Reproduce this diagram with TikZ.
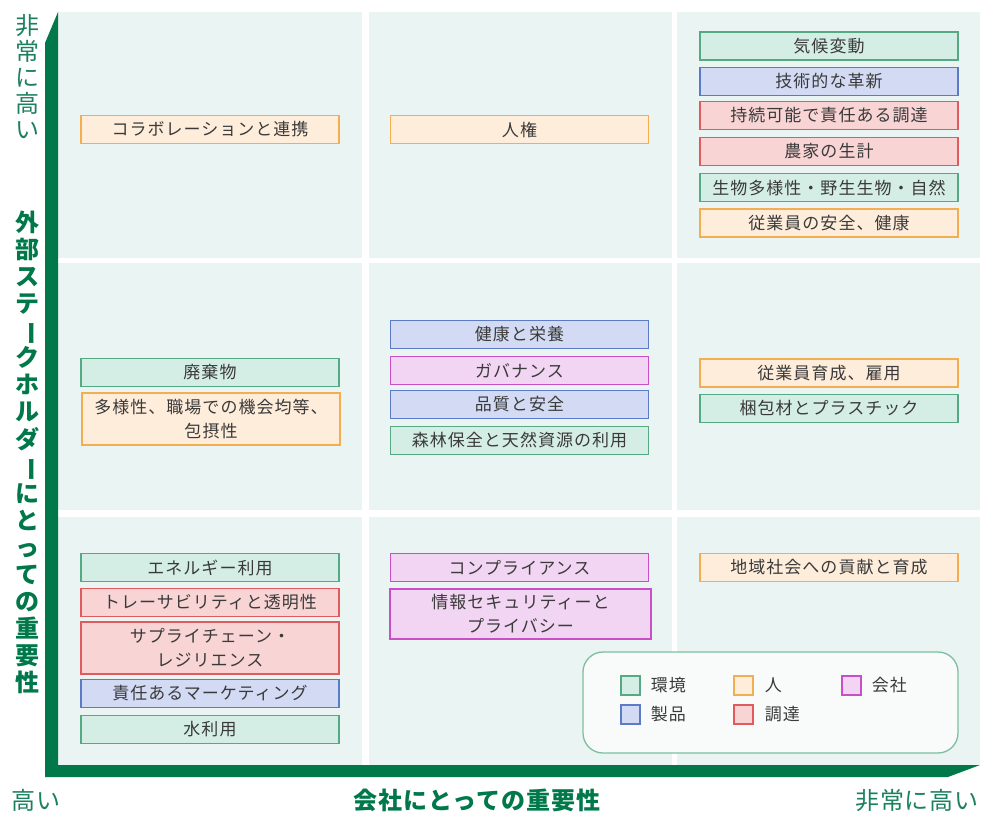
\documentclass[tikz,border=0pt]{standalone}
\usepackage{fontspec}
\usetikzlibrary{positioning}
\setmainfont{Noto Sans CJK JP}
\newfontfamily\boxfont{Noto Sans CJK JP}[LetterSpace=6]
\newfontfamily\axisfont{Noto Sans CJK JP}[LetterSpace=4]
\definecolor{cellfill}{HTML}{EAF4F2}
\definecolor{axisgreen}{HTML}{00784A}
\definecolor{labelgreen}{HTML}{1C8060}
\definecolor{boxtext}{HTML}{3A3A3A}
\definecolor{envfill}{HTML}{D5EEE5}
\definecolor{envline}{HTML}{55A985}
\definecolor{prodfill}{HTML}{D3DBF4}
\definecolor{prodline}{HTML}{5B7BC9}
\definecolor{pplfill}{HTML}{FFEDDB}
\definecolor{pplline}{HTML}{F2AE50}
\definecolor{compfill}{HTML}{F2D5F2}
\definecolor{compline}{HTML}{C94FC9}
\definecolor{procfill}{HTML}{F8D4D5}
\definecolor{procline}{HTML}{E05A5E}
\definecolor{legendline}{HTML}{7CC0A0}
\definecolor{legendfill}{HTML}{F8FBFA}
\newcommand{\tatebar}{\makebox[1em]{\rotatebox[origin=c]{-90}{ー}}}
\begin{document}
\begin{tikzpicture}[x=1pt,y=-1pt,
 item/.style={draw,line width=1.3pt,minimum width=258pt,minimum height=28pt,inner sep=0pt,align=center,text=boxtext,font=\boxfont\fontsize{17}{24}\selectfont},
 env/.style={item,draw=envline,fill=envfill},
 prod/.style={item,draw=prodline,fill=prodfill},
 ppl/.style={item,draw=pplline,fill=pplfill},
 comp/.style={item,draw=compline,fill=compfill},
 proc/.style={item,draw=procline,fill=procfill},
 swatch/.style={draw,line width=1.3pt,minimum size=19pt,inner sep=0pt},
 legtext/.style={anchor=west,inner sep=0pt,text=boxtext,font=\boxfont\fontsize{17}{17}\selectfont},
 tick/.style={text=labelgreen,inner sep=0pt,font=\axisfont\fontsize{24}{26}\selectfont},
 axistitle/.style={text=axisgreen,inner sep=0pt,font=\axisfont\bfseries\fontsize{24}{26}\selectfont}]
 \useasboundingbox (0,0) rectangle (981,812);
 % cells
 \foreach \xa/\xb in {58/362,369/672,677/980}
  \foreach \ya/\yb in {12/258,263/510,517/765}
   \fill[cellfill] (\xa,\ya) rectangle (\xb,\yb);
 % axes
 \fill[axisgreen] (45,43)--(58,12)--(58,765)--(980,765)--(948,777)--(45,777)--cycle;
 % top row
 \node[ppl] (collab) at (210,129.5) {コラボレーションと連携};
 \node[ppl] (rights) at (519.5,129.5) {人権};
 \node[env] (climate) at (829,46) {気候変動};
 \node[prod] (innovation) at (829,81.5) {技術的な革新};
 \node[proc] (sourcing) at (829,115.5) {持続可能で責任ある調達};
 \node[proc] (farmers) at (829,151.5) {農家の生計};
 \node[env] (nature) at (829,187.5) {生物多様性・野生生物・自然};
 \node[ppl] (safety) at (829,223) {従業員の安全、健康};
 % middle row
 \node[env] (waste) at (210,372.5) {廃棄物};
 \node[ppl,minimum height=52pt] (diversity) at (211,419) {多様性、職場での機会均等、\\包摂性};
 \node[prod] (nutrition) at (519.5,334.5) {健康と栄養};
 \node[comp] (governance) at (519.5,370.5) {ガバナンス};
 \node[prod] (quality) at (519.5,404.5) {品質と安全};
 \node[env] (forest) at (519.5,440.5) {森林保全と天然資源の利用};
 \node[ppl] (training) at (829,373) {従業員育成、雇用};
 \node[env] (packaging) at (829,408.5) {梱包材とプラスチック};
 % bottom row
 \node[env] (energy) at (210,567.5) {エネルギー利用};
 \node[proc] (trace) at (210,602.5) {トレーサビリティと透明性};
 \node[proc,minimum height=52pt] (resilience) at (210,648) {サプライチェーン・\\レジリエンス};
 \node[prod] (marketing) at (210,693.5) {責任あるマーケティング};
 \node[env] (water) at (210,729.5) {水利用};
 \node[comp] (compliance) at (519.5,567.5) {コンプライアンス};
 \node[comp,minimum width=261pt,minimum height=50pt] (privacy) at (520.5,614) {情報セキュリティーと\\プライバシー};
 \node[ppl] (community) at (829,567.5) {地域社会への貢献と育成};
 % legend
 \node[draw=legendline,fill=legendfill,line width=1.3pt,rounded corners=20pt,minimum width=375pt,minimum height=101pt] (legend) at (770.5,702.5) {};
 \node[swatch,draw=envline,fill=envfill] (envkey) at (630.5,685.5) {};
 \node[swatch,draw=pplline,fill=pplfill] (pplkey) at (743.5,685.5) {};
 \node[swatch,draw=compline,fill=compfill] (compkey) at (851.5,685.5) {};
 \node[swatch,draw=prodline,fill=prodfill] (prodkey) at (630.5,714.5) {};
 \node[swatch,draw=procline,fill=procfill] (prockey) at (743.5,714.5) {};
 \node[legtext,right=10pt of envkey] (envlabel) {環境};
 \node[legtext,right=11pt of pplkey] (ppllabel) {人};
 \node[legtext,right=10pt of compkey] (complabel) {会社};
 \node[legtext,right=10pt of prodkey] (prodlabel) {製品};
 \node[legtext,right=11pt of prockey] (proclabel) {調達};
 % axis labels
 \node[tick,align=center,font=\rmfamily\fontsize{24}{26}\selectfont] (yhigh) at (28,77) {非\\常\\に\\高\\い};
 \node[axistitle,align=center,font=\rmfamily\bfseries\fontsize{24}{27.1}\selectfont] (ytitle) at (28,452.5) {外\\部\\ス\\テ\\\tatebar\\ク\\ホ\\ル\\ダ\\\tatebar\\に\\と\\っ\\て\\の\\重\\要\\性};
 \node[tick] (xlow) at (36,800) {高い};
 \node[axistitle] (xtitle) at (477,800) {会社にとっての重要性};
 \node[tick] (xhigh) at (917,800) {非常に高い};
\end{tikzpicture}
\end{document}
